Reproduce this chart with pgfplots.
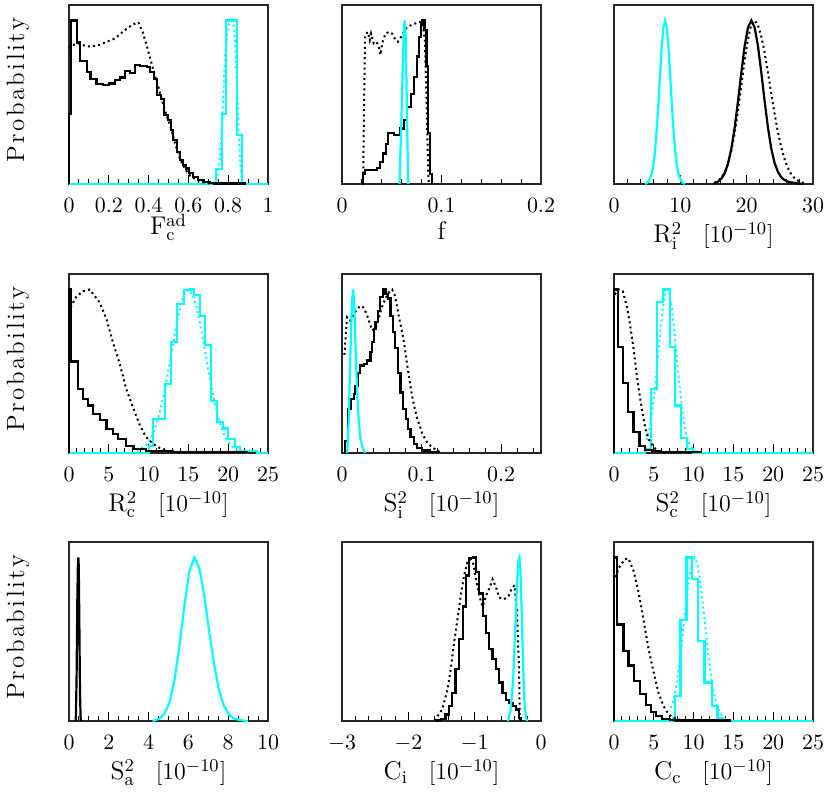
\documentclass[border=0pt]{standalone}
\usepackage{fontspec}
\usepackage{pgfplots}
\pgfplotsset{compat=1.18}
\definecolor{Cyan}{HTML}{00FFFF}
\newcommand{\ls}{\kern1.2pt}

\pgfplotsset{
  panel/.style={
    scale only axis, width=99.5pt, height=89.5pt, anchor=north west,
    ymin=0, ymax=1.095, ytick=\empty,
    xtick pos=left, tick align=inside,
    major tick length=4.5pt, minor tick length=2.3pt,
    every tick/.style={black, line width=0.5pt},
    axis line style={black!85, line width=0.6pt},
    scaled x ticks=false,
    xticklabel style={font=\fontsize{10.5}{12}\selectfont, yshift=-3.8pt},
    xlabel style={at={(axis description cs:0.5,0)}, anchor=base, yshift=-29.5pt,
      font=\fontsize{12.8}{14}\selectfont},
    clip=false,
  },
  prob/.style={
    ylabel={P\ls r\ls o\ls b\ls a\ls b\ls i\ls l\ls i\ls t\ls y},
    ylabel style={at={(axis description cs:-0.226,0.525)}, anchor=base,
      font=\fontsize{12.5}{14}\selectfont},
  },
  hsolid/.style={black, line width=1.1pt, const plot},
  hcyan/.style={Cyan, line width=1.1pt, const plot},
  lsolid/.style={black, line width=1.1pt},
  lcyan/.style={Cyan, line width=1.1pt},
  ldot/.style={black, line width=1pt, dash pattern=on 1pt off 1.6pt},
  cdot/.style={Cyan, line width=1pt, dash pattern=on 1pt off 1.6pt},
}

\begin{document}
\begin{tikzpicture}
\path[use as bounding box] (0,0) rectangle (415pt,-397.5pt);

% ---- row 1 ----
\begin{axis}[panel, prob, at={(34.5pt,-2.5pt)},
  xmin=0, xmax=1, xtick={0,0.2,0.4,0.6,0.8,1}, minor xtick={0,0.05,...,1},
  xlabel={$\mathrm{F}_{\mathrm{c}}^{\mathrm{ad}}$}, xlabel style={yshift=4pt}]
\addplot[hcyan] coordinates {(0,0) (0.739,0.094) (0.768,0.43) (0.790,1.0) (0.844,0.30) (0.869,0) (1,0)};
\addplot[cdot] coordinates {(0.74,0.02) (0.755,0.12) (0.77,0.40) (0.785,0.80) (0.80,0.97) (0.815,1.0) (0.83,0.96) (0.845,0.60) (0.855,0.25) (0.865,0.06) (0.875,0)};
\addplot[ldot] coordinates {(0,0.83) (0.02,0.85) (0.05,0.86) (0.08,0.845) (0.11,0.84) (0.15,0.85) (0.19,0.87) (0.23,0.89) (0.26,0.92) (0.29,0.95) (0.32,0.975) (0.348,0.99) (0.37,0.93) (0.39,0.85) (0.41,0.76) (0.43,0.67) (0.45,0.59) (0.47,0.50) (0.49,0.42) (0.51,0.35) (0.53,0.26) (0.55,0.18) (0.57,0.12) (0.59,0.08) (0.61,0.05) (0.64,0.025) (0.67,0.011) (0.70,0.004) (0.74,0)};
\addplot[hsolid] coordinates {(0,0) (0,0.43) (0.012,1.00) (0.040,0.865) (0.057,0.753) (0.091,0.687) (0.108,0.642) (0.138,0.611) (0.170,0.605) (0.200,0.615) (0.230,0.636) (0.255,0.652) (0.281,0.693) (0.306,0.680) (0.331,0.728) (0.356,0.722) (0.390,0.715) (0.407,0.687) (0.427,0.640) (0.444,0.545) (0.461,0.520) (0.477,0.420) (0.499,0.390) (0.511,0.330) (0.524,0.270) (0.541,0.195) (0.558,0.145) (0.571,0.115) (0.588,0.095) (0.605,0.065) (0.625,0.043) (0.650,0.022) (0.676,0.010) (0.709,0.004) (0.730,0.003) (0.885,0)};
\end{axis}

\begin{axis}[panel, at={(171pt,-2.5pt)},
  xmin=0, xmax=0.2, xtick={0,0.1,0.2}, minor xtick={0,0.02,...,0.2},
  xlabel={$\mathrm{f}$}, xlabel style={yshift=1.5pt}]
\addplot[ldot] coordinates {(0.0212,0) (0.0222,0.5) (0.0232,0.91) (0.0259,0.93) (0.0279,0.88) (0.0292,0.92) (0.0319,0.86) (0.0346,0.87) (0.0370,0.84) (0.0387,0.79) (0.0403,0.86) (0.0437,0.92) (0.0471,0.93) (0.0504,0.92) (0.0538,0.88) (0.0561,0.87) (0.0595,0.90) (0.0639,0.95) (0.0689,0.97) (0.0729,0.98) (0.0773,0.99) (0.0807,0.99) (0.0833,0.88) (0.0840,0.72) (0.0850,0.51) (0.0857,0.31) (0.0867,0.06) (0.0874,0)};
\addplot[hsolid] coordinates {(0.0200,0) (0.0212,0.063) (0.0235,0.084) (0.0353,0.10) (0.0380,0.135) (0.0410,0.186) (0.0440,0.247) (0.0464,0.31) (0.0490,0.313) (0.0520,0.30) (0.0588,0.34) (0.0620,0.39) (0.0655,0.47) (0.0690,0.55) (0.0723,0.656) (0.0750,0.78) (0.0773,0.90) (0.0790,0.98) (0.0810,1.00) (0.0830,0.94) (0.0850,0.72) (0.0867,0.31) (0.0884,0.06) (0.0904,0)};
\addplot[lcyan] coordinates {(0.0578,0) (0.0595,0.35) (0.0610,0.7) (0.0622,0.95) (0.0630,1.0) (0.0640,0.9) (0.0650,0.55) (0.0658,0.25) (0.0665,0)};
\end{axis}

\begin{axis}[panel, at={(307pt,-2.5pt)},
  xmin=0, xmax=30, xtick={0,10,20,30}, minor xtick={0,2,...,30},
  xlabel={$\mathrm{R}_{\mathrm{i}}^{2}$\ \ \,$[10^{-10}]$}]
\addplot[ldot] coordinates {(15.15,0.008) (15.65,0.018) (16.15,0.036) (16.65,0.068) (17.15,0.119) (17.65,0.196) (18.15,0.302) (18.65,0.436) (19.15,0.588) (19.65,0.742) (20.15,0.876) (20.65,0.967) (21.15,1.0) (21.65,0.978) (22.15,0.913) (22.65,0.816) (23.15,0.696) (23.65,0.568) (24.15,0.443) (24.65,0.330) (25.15,0.235) (25.65,0.160) (26.15,0.104) (26.65,0.065) (27.15,0.038) (27.65,0.022) (28.15,0.012) (28.65,0.006) (29.0,0)};
\addplot[lsolid] coordinates {(15.0,0) (15.2,0.005) (15.7,0.015) (16.2,0.033) (16.7,0.067) (17.2,0.126) (17.7,0.218) (18.2,0.348) (18.7,0.509) (19.2,0.684) (19.7,0.845) (20.2,0.958) (20.7,1.0) (21.2,0.958) (21.7,0.845) (22.2,0.684) (22.7,0.509) (23.2,0.348) (23.7,0.218) (24.2,0.130) (24.7,0.075) (25.2,0.042) (25.7,0.024) (26.2,0.015) (26.7,0.010) (27.2,0.007) (27.7,0.004) (28.5,0)};
\addplot[lcyan] coordinates {(4.7,0) (5.2,0.013) (5.7,0.063) (5.95,0.120) (6.2,0.211) (6.45,0.339) (6.7,0.50) (6.95,0.678) (7.2,0.841) (7.45,0.958) (7.7,1.0) (7.95,0.958) (8.2,0.841) (8.45,0.678) (8.7,0.50) (8.95,0.339) (9.2,0.211) (9.45,0.120) (9.7,0.063) (10.2,0.013) (10.7,0)};
\end{axis}

% ---- row 2 ----
\begin{axis}[panel, prob, at={(34.5pt,-137pt)},
  xmin=0, xmax=25, xtick={0,5,10,15,20,25}, minor xtick={0,1,...,25},
  xlabel={$\mathrm{R}_{\mathrm{c}}^{2}$\ \ \,$[10^{-10}]$}]
\addplot[hcyan] coordinates {(0,0) (10.1,0.045) (10.6,0.21) (12.05,0.42) (12.8,0.68) (13.55,0.91) (14.4,0.995) (15.08,1.0) (15.7,0.965) (16.46,0.84) (17.1,0.66) (17.8,0.32) (18.56,0.19) (19.3,0.15) (20.0,0.086) (20.9,0.035) (21.5,0.014) (23.6,0) (25,0)};
\addplot[cdot] coordinates {(8.55,0.011) (9.625,0.044) (10.163,0.080) (10.7,0.135) (11.238,0.216) (11.775,0.325) (12.313,0.458) (12.85,0.607) (13.388,0.755) (13.925,0.882) (14.463,0.969) (15.0,1.0) (15.538,0.969) (16.075,0.882) (16.613,0.755) (17.15,0.607) (17.688,0.458) (18.225,0.325) (18.763,0.216) (19.3,0.135) (19.838,0.080) (20.375,0.044) (21.45,0.011) (22.525,0.002)};
\addplot[ldot] coordinates {(0,0.86) (0.3,0.90) (0.9,0.955) (1.76,0.99) (2.6,1.0) (3.86,0.92) (4.7,0.82) (5.5,0.68) (6.4,0.54) (7.2,0.39) (8.1,0.27) (8.9,0.17) (9.7,0.096) (10.6,0.055) (11.4,0.03) (12.3,0.015) (13.5,0.004) (15,0)};
\addplot[hsolid] coordinates {(0,0) (0,1.0) (0.2,0.56) (1.13,0.39) (1.76,0.33) (2.4,0.29) (3.0,0.24) (3.86,0.20) (4.7,0.147) (5.5,0.117) (6.2,0.086) (7.2,0.045) (8.1,0.025) (9.7,0.012) (13,0.008) (16,0.005) (22.3,0)};
\end{axis}

\begin{axis}[panel, at={(171pt,-137pt)},
  xmin=0, xmax=0.25, xtick={0,0.1,0.2}, minor xtick={0,0.02,...,0.24},
  xlabel={$\mathrm{S}_{\mathrm{i}}^{2}$\ \ \,$[10^{-10}]$}]
\addplot[ldot] coordinates {(0.003,0.60) (0.0063,0.83) (0.0105,0.81) (0.015,0.85) (0.019,0.88) (0.023,0.90) (0.027,0.89) (0.031,0.85) (0.035,0.79) (0.038,0.75) (0.042,0.76) (0.046,0.82) (0.050,0.89) (0.055,0.95) (0.060,0.99) (0.063,1.0) (0.066,0.97) (0.069,0.90) (0.072,0.82) (0.0756,0.74) (0.079,0.64) (0.082,0.535) (0.085,0.44) (0.088,0.35) (0.091,0.28) (0.0945,0.21) (0.098,0.16) (0.101,0.117) (0.104,0.09) (0.107,0.065) (0.113,0.035) (0.12,0.014) (0.125,0)};
\addplot[hsolid] coordinates {(0.0042,0) (0.0042,0.075) (0.0071,0.27) (0.0113,0.33) (0.0147,0.36) (0.0168,0.41) (0.0197,0.49) (0.023,0.535) (0.0273,0.546) (0.0315,0.566) (0.0357,0.617) (0.0378,0.68) (0.040,0.76) (0.042,0.80) (0.045,0.87) (0.048,0.955) (0.0517,1.0) (0.0546,0.975) (0.0575,0.945) (0.061,0.84) (0.064,0.74) (0.067,0.64) (0.070,0.49) (0.0735,0.37) (0.077,0.27) (0.080,0.21) (0.083,0.147) (0.086,0.096) (0.090,0.055) (0.0945,0.03) (0.101,0.015) (0.111,0.004) (0.12,0)};
\addplot[lcyan] coordinates {(0.0065,0) (0.0085,0.2) (0.0105,0.6) (0.0125,0.92) (0.014,1.0) (0.0155,0.9) (0.017,0.65) (0.019,0.38) (0.021,0.2) (0.023,0.09) (0.026,0.03) (0.029,0)};
\end{axis}

\begin{axis}[panel, at={(307pt,-137pt)},
  xmin=0, xmax=25, xtick={0,5,10,15,20,25}, minor xtick={0,1,...,25},
  xlabel={$\mathrm{S}_{\mathrm{c}}^{2}$\ \ \,$[10^{-10}]$}]
\addplot[hcyan] coordinates {(0,0) (3.9,0.025) (4.6,0.39) (5.4,0.925) (6.15,1.0) (7.0,0.65) (7.7,0.29) (8.4,0.09) (9.2,0.025) (9.95,0) (25,0)};
\addplot[cdot] coordinates {(4.113,0.080) (4.4,0.135) (4.688,0.216) (4.975,0.325) (5.263,0.458) (5.55,0.607) (5.838,0.755) (6.125,0.882) (6.413,0.969) (6.7,1.0) (6.988,0.969) (7.275,0.882) (7.563,0.755) (7.85,0.607) (8.138,0.458) (8.425,0.325) (8.713,0.216) (9.0,0.135) (9.288,0.080) (9.575,0.044) (10.15,0.011) (10.725,0.002)};
\addplot[ldot] coordinates {(0.1,0.97) (0.6,1.0) (1.1,0.99) (1.6,0.90) (2.0,0.79) (2.45,0.64) (2.87,0.47) (3.3,0.33) (3.7,0.21) (4.1,0.117) (4.55,0.065) (5.2,0.025) (5.8,0.008) (6.5,0)};
\addplot[hsolid] coordinates {(0,0) (0,1.0) (0.55,0.65) (1.1,0.43) (1.8,0.25) (2.45,0.13) (3.2,0.045) (3.9,0.02) (4.76,0.01) (5.8,0.004) (10.9,0)};
\end{axis}

% ---- row 3 ----
\begin{axis}[panel, prob, at={(34.5pt,-271pt)},
  xmin=0, xmax=10, xtick={0,2,4,6,8,10}, minor xtick={0,0.5,...,10},
  xlabel={$\mathrm{S}_{\mathrm{a}}^{2}$\ \ \,$[10^{-10}]$}]
\addplot[lsolid] coordinates {(0.34,0) (0.38,0.25) (0.42,0.75) (0.45,0.98) (0.47,1.0) (0.49,0.95) (0.52,0.6) (0.55,0.2) (0.58,0.03) (0.6,0)};
\addplot[lcyan] coordinates {(4.2,0) (4.3,0.004) (4.55,0.014) (4.8,0.044) (5.05,0.114) (5.3,0.249) (5.55,0.458) (5.8,0.707) (6.05,0.917) (6.3,1.0) (6.55,0.935) (6.8,0.763) (7.05,0.544) (7.3,0.339) (7.55,0.184) (7.8,0.088) (8.05,0.037) (8.3,0.013) (8.8,0.002) (9.0,0)};
\end{axis}

\begin{axis}[panel, at={(171pt,-271pt)},
  xmin=-3, xmax=0, xtick={-3,-2,-1,0}, minor xtick={-3,-2.8,...,0},
  xlabel={$\mathrm{C}_{\mathrm{i}}$\ \ \,$[10^{-10}]$}]
\addplot[ldot] coordinates {(-1.59,0) (-1.56,0.03) (-1.49,0.07) (-1.41,0.19) (-1.36,0.32) (-1.31,0.48) (-1.26,0.62) (-1.21,0.765) (-1.16,0.89) (-1.11,0.97) (-1.06,0.99) (-1.02,0.96) (-0.98,0.87) (-0.93,0.765) (-0.88,0.70) (-0.83,0.765) (-0.78,0.81) (-0.73,0.867) (-0.68,0.82) (-0.63,0.755) (-0.555,0.745) (-0.49,0.765) (-0.44,0.81) (-0.40,0.83) (-0.36,0.66) (-0.345,0.46) (-0.33,0.32) (-0.32,0)};
\addplot[hsolid] coordinates {(-1.588,0) (-1.55,0.007) (-1.51,0.014) (-1.44,0.04) (-1.39,0.09) (-1.34,0.17) (-1.29,0.32) (-1.24,0.50) (-1.18,0.70) (-1.13,0.89) (-1.08,0.995) (-1.03,1.0) (-0.98,0.91) (-0.93,0.78) (-0.88,0.64) (-0.83,0.54) (-0.78,0.44) (-0.73,0.38) (-0.68,0.32) (-0.63,0.235) (-0.58,0.17) (-0.53,0.13) (-0.48,0.11) (-0.43,0.09) (-0.38,0.07) (-0.33,0.02) (-0.30,0)};
\addplot[lcyan] coordinates {(-0.50,0) (-0.46,0.06) (-0.42,0.25) (-0.39,0.55) (-0.36,0.85) (-0.34,0.98) (-0.325,1.0) (-0.31,0.92) (-0.29,0.65) (-0.27,0.35) (-0.25,0.12) (-0.23,0.03) (-0.21,0)};
\end{axis}

\begin{axis}[panel, at={(307pt,-271pt)},
  xmin=0, xmax=25, xtick={0,5,10,15,20,25}, minor xtick={0,1,...,25},
  xlabel={$\mathrm{C}_{\mathrm{c}}$\ \ \,$[10^{-10}]$}]
\addplot[hcyan] coordinates {(0,0) (7.45,0.02) (7.7,0.153) (8.35,0.62) (9.1,1.0) (9.82,0.87) (10.54,0.49) (11.38,0.235) (12.35,0.09) (12.99,0.02) (13.6,0) (25,0)};
\addplot[cdot] coordinates {(7.175,0.080) (7.5,0.135) (7.825,0.216) (8.15,0.325) (8.475,0.458) (8.8,0.607) (9.125,0.755) (9.45,0.882) (9.775,0.969) (10.1,1.0) (10.425,0.969) (10.75,0.882) (11.075,0.755) (11.4,0.607) (11.725,0.458) (12.05,0.325) (12.375,0.216) (12.7,0.135) (13.025,0.080) (13.35,0.044) (14.0,0.011) (14.65,0.002)};
\addplot[ldot] coordinates {(0.13,0.88) (0.76,0.95) (1.4,0.99) (1.8,0.995) (2.45,0.92) (3.08,0.79) (3.7,0.62) (4.34,0.44) (4.97,0.30) (5.6,0.17) (6.24,0.09) (6.87,0.04) (7.5,0.02) (8.35,0.006) (9,0)};
\addplot[hsolid] coordinates {(0,0) (0,1.0) (0.42,0.59) (1.18,0.43) (1.81,0.34) (2.53,0.245) (3.29,0.163) (4.05,0.10) (4.64,0.055) (5.31,0.03) (6.03,0.014) (7.08,0.006) (8.35,0.003) (14.5,0)};
\end{axis}
\end{tikzpicture}
\end{document}
